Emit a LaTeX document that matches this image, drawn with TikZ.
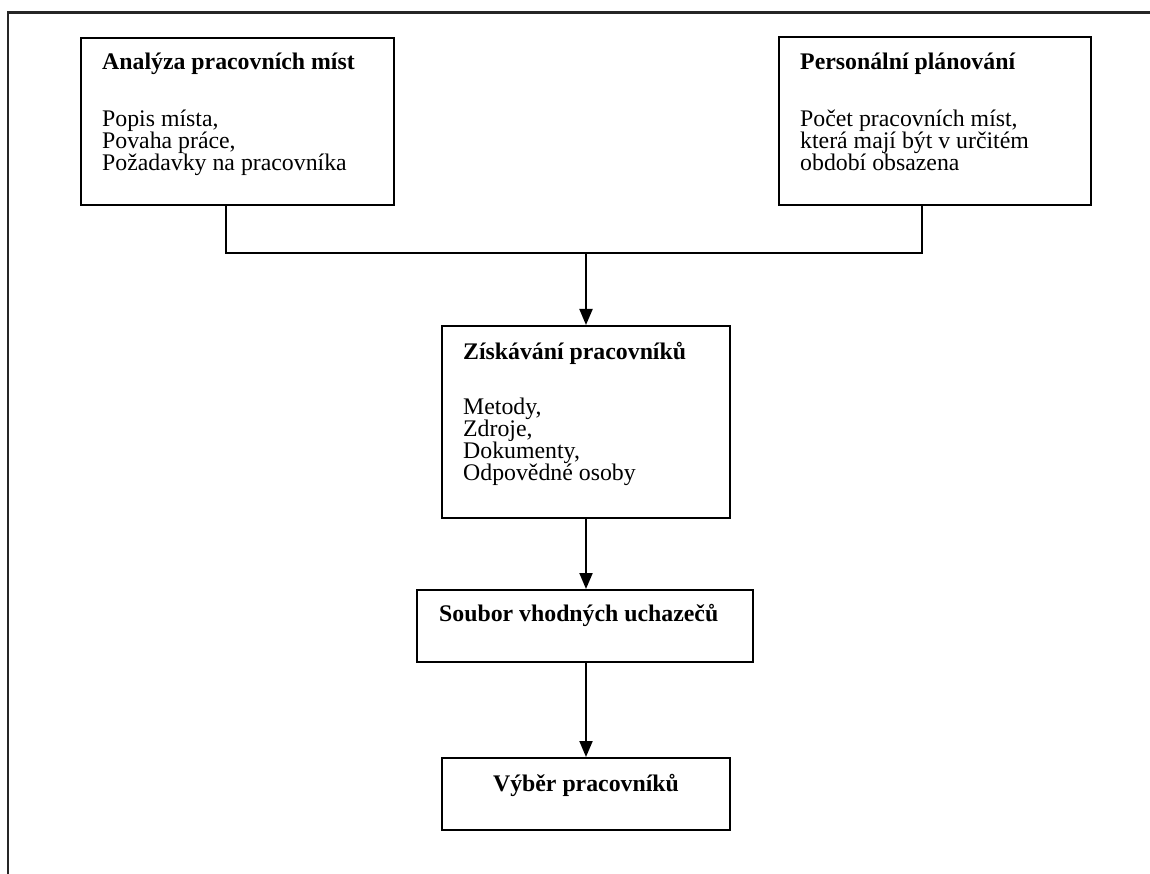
\documentclass[tikz,border=0pt]{standalone}
\usepackage{fontspec}
\setmainfont{Liberation Serif}
\usetikzlibrary{arrows.meta}
\begin{document}
\begin{tikzpicture}[x=1pt,y=-1pt,
  box/.style={draw, line width=2pt, inner sep=0pt},
  txt/.style={anchor=base west, inner sep=0pt, font=\fontsize{23.8}{22}\selectfont},
  ttl/.style={txt, font=\fontsize{23.8}{22}\selectfont\bfseries},
  conn/.style={line width=2pt},
  arr/.style={line width=2pt, -{Triangle[length=16pt,width=13pt]}},
  frame/.style={line width=2.2pt, black!85}]
\useasboundingbox (0,0) rectangle (1150,874);
% outer frame (top and left edges)
\coordinate (fa) at (1150,12.5);
\coordinate (fb) at (8,12.5);
\coordinate (fc) at (8,874);
\draw[frame] (fa) -- (fb) -- (fc);
% boxes
\node[box, minimum width=313pt, minimum height=167pt] (a) at (237.5,121.5) {};
\node[box, minimum width=312pt, minimum height=168pt] (p) at (934.5,121.5) {};
\node[box, minimum width=288pt, minimum height=192pt] (z) at (586,422) {};
\node[box, minimum width=336pt, minimum height=72pt] (s) at (585,626) {};
\node[box, minimum width=288pt, minimum height=72pt] (v) at (586,794) {};
% texts
\node[ttl] (a0) at (102,70) {Analýza pracovních míst};
\node[txt] (a1) at (102,126.5) {Popis místa,};
\node[txt] (a2) at (102,148.5) {Povaha práce,};
\node[txt] (a3) at (102,170.5) {Požadavky na pracovníka};
\node[ttl] (p0) at (800,70) {Personální plánování};
\node[txt] (p1) at (800,126.5) {Počet pracovních míst,};
\node[txt] (p2) at (800,148.5) {která mají být v určitém};
\node[txt] (p3) at (800,170.5) {období obsazena};
\node[ttl] (z0) at (463,359) {Získávání pracovníků};
\node[txt] (z1) at (463,414) {Metody,};
\node[txt] (z2) at (463,436) {Zdroje,};
\node[txt] (z3) at (463,458) {Dokumenty,};
\node[txt] (z4) at (463,480) {Odpovědné osoby};
\node[ttl] (s0) at (439,621.5) {Soubor vhodných uchazečů};
\node[ttl, anchor=base] (v0) at (586,791.5) {Výběr pracovníků};
% connectors
\coordinate (jl) at (226,253);
\coordinate (jr) at (922,253);
\coordinate (jc) at (586,253);
\draw[conn] (jl |- a.south) -- (jl) -- (jr) -- (jr |- p.south);
\draw[arr] (jc) -- (z.north);
\draw[arr] (z.south) -- (z.south |- s.north);
\draw[arr] (s.south -| v.north) -- (v.north);
\end{tikzpicture}
\end{document}
